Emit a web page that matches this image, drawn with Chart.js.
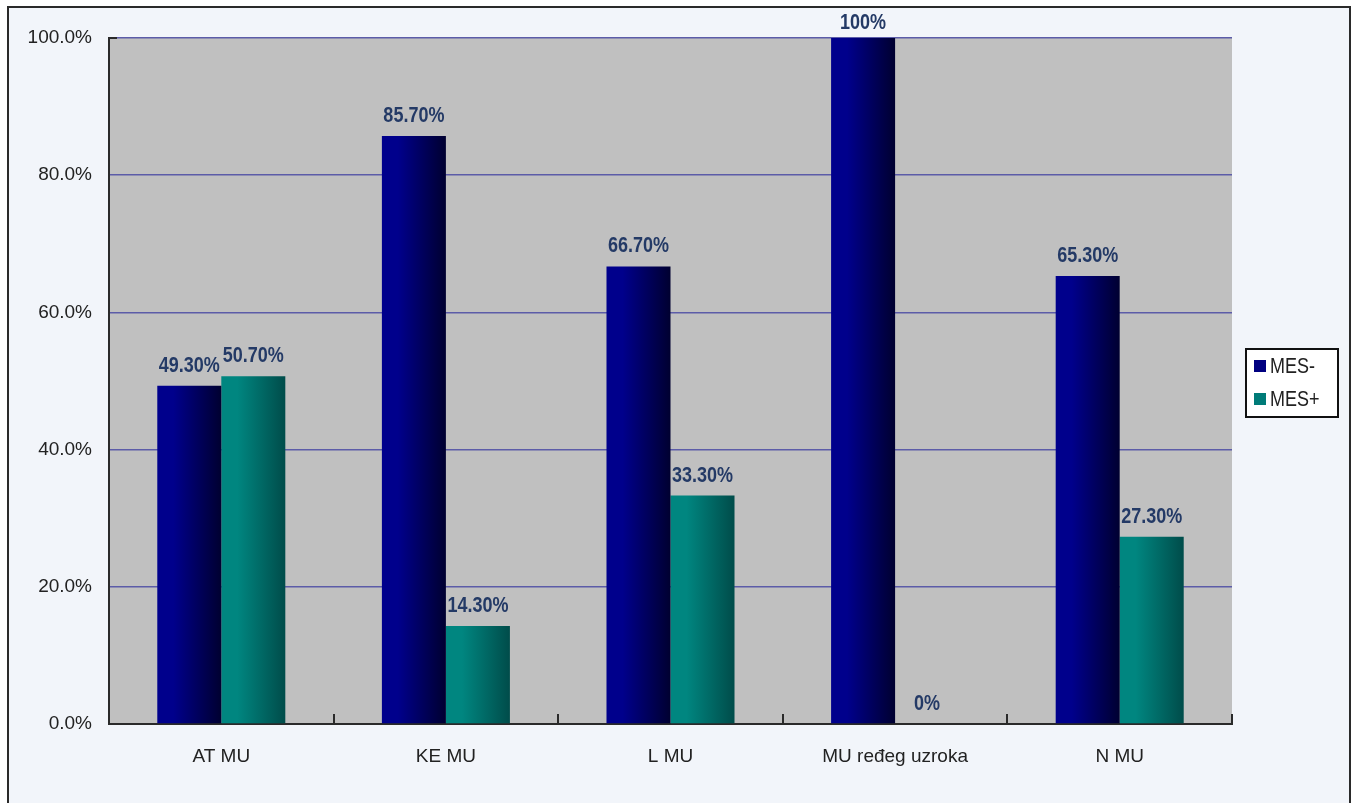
<!DOCTYPE html>
<html>
<head>
<meta charset="utf-8">
<script src="https://cdn.jsdelivr.net/npm/chart.js@4"></script>
<style>
  html, body { margin: 0; padding: 0; background: #fff; overflow: hidden; }
  #wrap { position: relative; width: 1357px; height: 803px; }
  #barchart { display: block; }
</style>
</head>
<body>
<div id="wrap"><canvas id="barchart" width="1357" height="803"></canvas></div>
<script>
/* chart data */
const categories = ['AT MU', 'KE MU', 'L MU', 'MU ređeg uzroka', 'N MU'];
const mesMinus = [49.3, 85.7, 66.7, 100, 65.3];
const mesPlus = [50.7, 14.3, 33.3, 0, 27.3];
const seriesNames = ['MES-', 'MES+'];
const yTicks = [0, 20, 40, 60, 80, 100];

const CAT_PCT = 0.57;
const FONT = '"Liberation Sans", Arial, sans-serif';

/* horizontal gradient for each bar, left light -> right dark */
function barGradient(dsIndex, light, dark) {
  return function (context) {
    const chart = context.chart;
    const area = chart.chartArea;
    if (!area || context.type !== 'data') return light;
    const xs = chart.scales.x;
    const center = xs.getPixelForValue(context.dataIndex);
    const half = (area.right - area.left) / categories.length * CAT_PCT / 2;
    const left = dsIndex === 0 ? center - half : center;
    const g = chart.ctx.createLinearGradient(left, 0, left + half, 0);
    g.addColorStop(0, light);
    g.addColorStop(0.25, light);
    g.addColorStop(1, dark);
    return g;
  };
}

const colors = ['#000080', '#007b78'];

/* text stretched vertically like the original picture */
function tallText(c, txt, x, y, sy) {
  c.save();
  c.translate(x, y);
  c.scale(1, sy);
  c.fillText(txt, 0, 0);
  c.restore();
}

/* frame, plot background, ticks, value labels and legend */
const decor = {
  id: 'decor',
  beforeDraw(chart) {
    const c = chart.ctx;
    const a = chart.chartArea;
    c.save();
    c.fillStyle = '#ffffff';
    c.fillRect(0, 0, chart.width, chart.height);
    c.fillStyle = '#f2f5fa';
    c.fillRect(8, 7, 1342, 800);
    c.strokeStyle = '#2a2a2a';
    c.lineWidth = 2;
    c.strokeRect(8, 7, 1342, 800);
    c.fillStyle = '#c0c0c0';
    c.fillRect(a.left, a.top, a.right - a.left, a.bottom - a.top);
    c.restore();
  },
  afterDatasetsDraw(chart) {
    const c = chart.ctx;
    const a = chart.chartArea;
    c.save();
    // small category ticks pointing up from the x axis
    c.strokeStyle = '#2a2a2a';
    c.lineWidth = 2;
    const step = (a.right - a.left) / categories.length;
    for (let k = 1; k <= categories.length; k++) {
      const x = Math.round(a.left + step * k);
      c.beginPath();
      c.moveTo(x, a.bottom);
      c.lineTo(x, a.bottom - 10);
      c.stroke();
    }
    c.beginPath();
    c.moveTo(a.left, a.top);
    c.lineTo(a.left + 8, a.top);
    c.stroke();
    // value labels
    c.fillStyle = '#243a66';
    c.font = 'bold 18px ' + FONT;
    c.textAlign = 'center';
    c.textBaseline = 'bottom';
    chart.data.datasets.forEach((ds, i) => {
      chart.getDatasetMeta(i).data.forEach((bar, j) => {
        const v = ds.data[j];
        const txt = Number.isInteger(v) ? v + '%' : v.toFixed(2) + '%';
        tallText(c, txt, bar.x, Math.max(bar.y - 9, 34), 1.25);
      });
    });
    c.restore();
  },
  afterDraw(chart) {
    const c = chart.ctx;
    c.save();
    const bx = 1246, by = 349, bw = 92, bh = 68;
    c.fillStyle = '#ffffff';
    c.fillRect(bx, by, bw, bh);
    c.strokeStyle = '#111';
    c.lineWidth = 2;
    c.strokeRect(bx, by, bw, bh);
    c.font = '18px ' + FONT;
    c.textBaseline = 'middle';
    c.textAlign = 'left';
    chart.data.datasets.forEach((ds, i) => {
      const y = by + 17 + i * 33;
      c.fillStyle = colors[i];
      c.fillRect(bx + 8, y - 6, 12, 12);
      c.fillStyle = '#222';
      tallText(c, ds.label, bx + 24, y + 1, 1.2);
    });
    c.restore();
  }
};

window.onload = function () {
  const ctx = document.getElementById('barchart').getContext('2d');

  new Chart(ctx, {
    type: 'bar',
    data: {
      labels: categories,
      datasets: [{
        label: seriesNames[0],
        data: mesMinus,
        backgroundColor: barGradient(0, '#00008c', '#000030'),
        borderWidth: 0
      }, {
        label: seriesNames[1],
        data: mesPlus,
        backgroundColor: barGradient(1, '#008680', '#004c4a'),
        borderWidth: 0
      }]
    },
    options: {
      responsive: false,
      maintainAspectRatio: false,
      animation: false,
      devicePixelRatio: 1,
      layout: {
        padding: { left: 0, top: 38, right: 125, bottom: 0 }
      },
      datasets: {
        bar: { categoryPercentage: CAT_PCT, barPercentage: 1 }
      },
      plugins: {
        legend: { display: false },
        tooltip: { enabled: false }
      },
      scales: {
        x: {
          grid: { display: false },
          border: { display: true, color: '#2a2a2a', width: 2 },
          ticks: {
            color: '#222',
            font: { family: FONT, size: 19 },
            padding: 13,
            maxRotation: 0,
            autoSkip: false
          },
          afterFit(scale) { scale.height = 79; }
        },
        y: {
          min: 0,
          max: 100,
          afterBuildTicks(scale) {
            scale.ticks = yTicks.map(v => ({ value: v }));
          },
          grid: {
            color: '#5c5ca8',
            lineWidth: 1.5,
            drawTicks: false
          },
          border: { display: true, color: '#2a2a2a', width: 2 },
          ticks: {
            color: '#222',
            font: { family: FONT, size: 19 },
            padding: 17,
            callback: v => v.toFixed(1) + '%'
          },
          afterFit(scale) { scale.width = 109; }
        }
      }
    },
    plugins: [decor]
  });
};
</script>
</body>
</html>
